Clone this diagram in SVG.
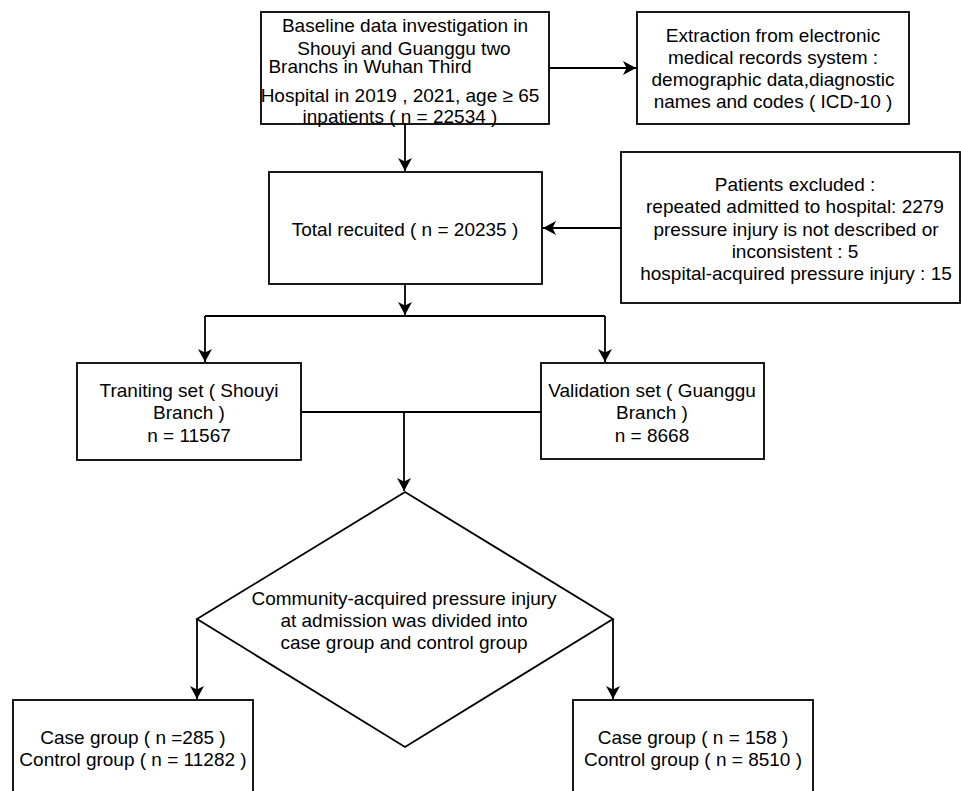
<svg xmlns="http://www.w3.org/2000/svg" width="961" height="791" viewBox="0 0 961 791">
<style>
.box{fill:#fff;stroke:#000;stroke-width:1.8}
.t{font-family:"Liberation Sans",Arial,sans-serif;font-size:19px;fill:#000;text-anchor:middle}
.c{fill:none;stroke:#000;stroke-width:1.8}
</style>
<defs>
<marker id="arr" markerUnits="userSpaceOnUse" markerWidth="16" markerHeight="16" viewBox="-14 -8 16 16" refX="0" refY="0" orient="auto">
<path d="M0,0 L-13,-7 L-9.5,0 L-13,7 Z" fill="#000"/>
</marker>
</defs>
<rect width="961" height="791" fill="#fff"/>
<g id="connectors">
<path class="c" d="M405,124 V171" marker-end="url(#arr)"/>
<path class="c" d="M549,68 H636" marker-end="url(#arr)"/>
<path class="c" d="M621,228 H543" marker-end="url(#arr)"/>
<path class="c" d="M405,284 V315" marker-end="url(#arr)"/>
<path class="c" d="M205,316 H605"/>
<path class="c" d="M205,316 V362" marker-end="url(#arr)"/>
<path class="c" d="M605,316 V362" marker-end="url(#arr)"/>
<path class="c" d="M301,412 H541"/>
<path class="c" d="M404,412 V491" marker-end="url(#arr)"/>
<path class="c" d="M197,619 V699" marker-end="url(#arr)"/>
<path class="c" d="M613,619 V699" marker-end="url(#arr)"/>
</g>
<g id="baseline">
<rect class="box" x="261" y="12" width="288" height="112"/>
<text class="t" x="405" y="32">Baseline data investigation in</text>
<text class="t" x="404" y="55">Shouyi and Guanggu two</text>
<text class="t" x="370" y="73">Branchs in Wuhan Third</text>
<text class="t" x="400" y="102">Hospital in 2019 , 2021, age ≥ 65</text>
<text class="t" x="400" y="123">inpatients ( n = 22534 )</text>
</g>
<g id="extraction">
<rect class="box" x="637" y="12" width="272" height="112"/>
<text class="t" x="773" y="42">Extraction from electronic</text>
<text class="t" x="773" y="64">medical records system :</text>
<text class="t" x="773" y="86">demographic data,diagnostic</text>
<text class="t" x="773" y="108">names and codes ( ICD-10 )</text>
</g>
<g id="total">
<rect class="box" x="269" y="172" width="273" height="112"/>
<text class="t" x="405" y="236">Total recuited ( n = 20235 )</text>
</g>
<g id="excluded">
<rect class="box" x="621" y="152" width="339" height="151"/>
<text class="t" x="795" y="191">Patients excluded :</text>
<text class="t" x="795" y="213">repeated admitted to hospital: 2279</text>
<text class="t" x="796" y="236">pressure injury is not described or</text>
<text class="t" x="795" y="258">inconsistent : 5</text>
<text class="t" x="796" y="280">hospital-acquired pressure injury : 15</text>
</g>
<g id="training">
<rect class="box" x="77" y="363" width="224" height="97"/>
<text class="t" x="189" y="397">Traniting set ( Shouyi</text>
<text class="t" x="189" y="419">Branch )</text>
<text class="t" x="189" y="442">n = 11567</text>
</g>
<g id="validation">
<rect class="box" x="541" y="363" width="223" height="96"/>
<text class="t" x="652" y="397">Validation set ( Guanggu</text>
<text class="t" x="652" y="419">Branch )</text>
<text class="t" x="652" y="442">n = 8668</text>
</g>
<g id="decision">
<polygon class="box" points="405,492 613,619 405,747 197,619"/>
<text class="t" x="404" y="605">Community-acquired pressure injury</text>
<text class="t" x="404" y="627">at admission was divided into</text>
<text class="t" x="404" y="649">case group and control group</text>
</g>
<g id="case-left">
<rect class="box" x="13" y="700" width="240" height="120"/>
<text class="t" x="133" y="744">Case group ( n =285 )</text>
<text class="t" x="133" y="766">Control group ( n = 11282 )</text>
</g>
<g id="case-right">
<rect class="box" x="573" y="700" width="240" height="120"/>
<text class="t" x="693" y="744">Case group ( n = 158 )</text>
<text class="t" x="693" y="766">Control group ( n = 8510 )</text>
</g>
</svg>
